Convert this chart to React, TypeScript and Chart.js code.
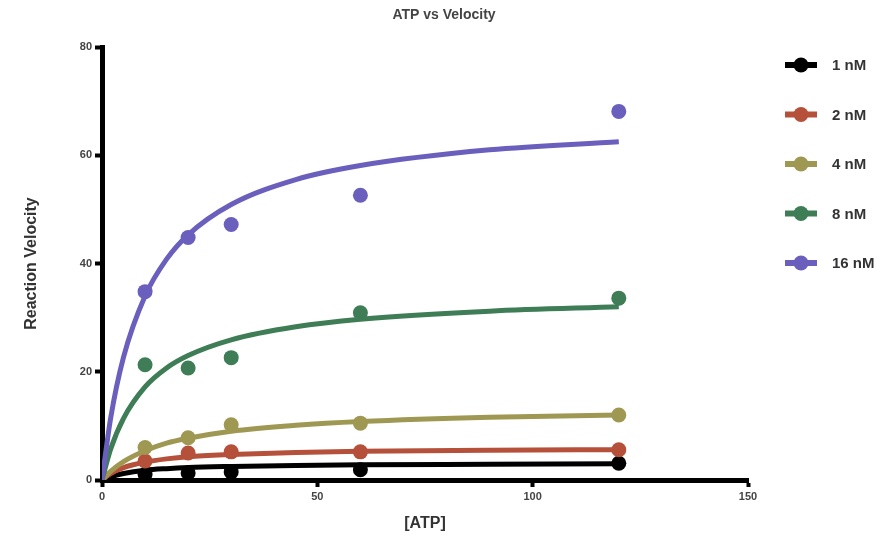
import React, { useEffect, useRef } from "react";
import { Chart, registerables } from "chart.js";

Chart.register(...registerables);

const TITLE = "ATP vs Velocity";
const X_TITLE = "[ATP]";
const Y_TITLE = "Reaction Velocity";

const LABELS = ["1 nM", "2 nM", "4 nM", "8 nM", "16 nM"];
const COLORS = ["#000000", "#b5503a", "#9f9852", "#3e7d56", "#6a5fbd"];

// measured points
const ATP = [10, 20, 30, 60, 120];
const V1 = [1.0, 1.3, 1.5, 1.9, 3.1];
const V2 = [3.5, 5.0, 5.2, 5.2, 5.6];
const V4 = [6.0, 7.8, 10.2, 10.5, 12.0];
const V8 = [21.3, 20.7, 22.6, 30.9, 33.6];
const V16 = [34.8, 44.8, 47.2, 52.6, 68.1];

// fitted curves
const FIT_X = [0, 2, 5, 10, 15, 20, 30, 45, 60, 90, 120];
const FIT1 = [0, 0.6, 1.2, 1.8, 2.1, 2.3, 2.5, 2.7, 2.8, 2.9, 3.0];
const FIT2 = [0, 1.2, 2.3, 3.3, 3.9, 4.3, 4.7, 5.1, 5.3, 5.5, 5.6];
const FIT4 = [0, 1.6, 3.4, 5.4, 6.8, 7.7, 9.0, 10.1, 10.8, 11.6, 12.0];
const FIT8 = [0, 5.7, 11.4, 17.2, 20.7, 23.0, 25.9, 28.3, 29.7, 31.2, 32.0];
const FIT16 = [0, 11.4, 22.7, 34.0, 40.8, 45.3, 50.9, 55.5, 58.1, 61.0, 62.5];

const X_TICKS = [0, 50, 100, 150];
const Y_TICKS = [0, 20, 40, 60, 80];

const POINTS = [V1, V2, V4, V8, V16];
const FITS = [FIT1, FIT2, FIT4, FIT8, FIT16];

const FONT = "'Liberation Sans', Arial, sans-serif";

const overlayPlugin = {
  id: "overlay",
  afterDraw(chart: any) {
    const ctx = chart.ctx;
    ctx.save();
    // title
    ctx.fillStyle = "#444";
    ctx.font = `bold 14px ${FONT}`;
    ctx.textAlign = "center";
    ctx.textBaseline = "middle";
    ctx.fillText(TITLE, 444, 15);
    // legend
    LABELS.forEach((label, i) => {
      const y = 65 + i * 49.5;
      ctx.strokeStyle = COLORS[i];
      ctx.lineWidth = 6;
      ctx.beginPath();
      ctx.moveTo(785, y);
      ctx.lineTo(817, y);
      ctx.stroke();
      ctx.fillStyle = COLORS[i];
      ctx.beginPath();
      ctx.arc(801, y, 7.5, 0, Math.PI * 2);
      ctx.fill();
      ctx.fillStyle = "#333";
      ctx.font = `bold 15px ${FONT}`;
      ctx.textAlign = "left";
      ctx.textBaseline = "middle";
      ctx.fillText(label, 832, y + 1);
    });
    ctx.restore();
  },
};

export default function App() {
  const ref = useRef<HTMLCanvasElement>(null);

  useEffect(() => {
    if (!ref.current) return;
    const datasets: any[] = [];
    LABELS.forEach((label, i) => {
      datasets.push({
        type: "line",
        label: label + " fit",
        data: FIT_X.map((x, j) => ({ x, y: FITS[i][j] })),
        borderColor: COLORS[i],
        backgroundColor: COLORS[i],
        borderWidth: 5,
        pointRadius: 0,
        cubicInterpolationMode: "monotone",
        fill: false,
        order: 10 - i,
      });
      datasets.push({
        type: "scatter",
        label,
        data: ATP.map((x, j) => ({ x, y: POINTS[i][j] })),
        showLine: false,
        backgroundColor: COLORS[i],
        borderColor: COLORS[i],
        borderWidth: 0,
        pointRadius: 7.5,
        order: 10 - i,
      });
    });

    const chart = new Chart(ref.current, {
      type: "scatter",
      data: { datasets },
      plugins: [overlayPlugin],
      options: {
        animation: false,
        responsive: false,
        devicePixelRatio: 1,
        layout: { padding: { left: 0, right: 133, top: 47, bottom: 0 } },
        plugins: {
          legend: { display: false },
          tooltip: { enabled: false },
          title: { display: false },
        },
        scales: {
          x: {
            type: "linear",
            min: 0,
            max: 150,
            afterBuildTicks: (s: any) => {
              s.ticks = X_TICKS.map((v) => ({ value: v }));
            },
            afterFit: (s: any) => {
              s.height = 60;
            },
            grid: {
              display: true,
              drawOnChartArea: false,
              drawTicks: true,
              tickLength: 7,
              tickWidth: 4,
              tickColor: "#000",
            },
            border: { display: true, color: "#000", width: 5 },
            ticks: {
              color: "#444",
              font: { family: FONT, size: 11, weight: "bold" },
              padding: 3,
              maxRotation: 0,
            },
            title: {
              display: true,
              text: X_TITLE,
              color: "#333",
              font: { family: FONT, size: 16, weight: "bold" },
              padding: { top: 0, bottom: 7 },
            },
          },
          y: {
            type: "linear",
            min: 0,
            max: 80,
            afterBuildTicks: (s: any) => {
              s.ticks = Y_TICKS.map((v) => ({ value: v }));
            },
            afterFit: (s: any) => {
              s.width = 102;
            },
            grid: {
              display: true,
              drawOnChartArea: false,
              drawTicks: true,
              tickLength: 7,
              tickWidth: 4,
              tickColor: "#000",
            },
            border: { display: true, color: "#000", width: 5 },
            ticks: {
              color: "#444",
              font: { family: FONT, size: 11, weight: "bold" },
              padding: 3,
            },
            title: {
              display: true,
              text: Y_TITLE,
              color: "#333",
              font: { family: FONT, size: 16, weight: "bold" },
              padding: { top: 22, bottom: 0 },
            },
          },
        },
      } as any,
    });
    return () => chart.destroy();
  }, []);

  return (
    <div style={{ position: "fixed", left: 0, top: 0, width: 881, height: 540, background: "#fff" }}>
      <canvas ref={ref} width={881} height={540} style={{ display: "block" }} />
    </div>
  );
}
